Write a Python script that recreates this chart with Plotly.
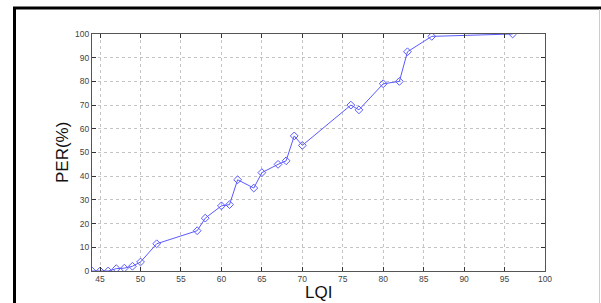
import plotly.graph_objects as go

lqi = [44, 45, 46, 47, 48, 49, 50, 52, 57, 58, 60, 61, 62, 64, 65, 67, 68, 69, 70, 76, 77, 80, 82, 83, 86, 96]
per = [0, 0, 0, 1, 1.2, 2, 3.8, 11.5, 17, 22.3, 27.5, 28, 38.5, 35, 41.5, 45, 46.5, 57, 53, 70, 68, 79, 80, 92.5, 99, 100]

x_ticks = [45, 50, 55, 60, 65, 70, 75, 80, 85, 90, 95, 100]
y_ticks = [0, 10, 20, 30, 40, 50, 60, 70, 80, 90, 100]

W, H = 601, 303
L, R, T, B = 92, 56, 34, 32
pw, ph = W - L - R, H - T - B

def px(x):
    return (x - L) / pw

def py(y):
    return (H - B - y) / ph

FONT = "Arial, Liberation Sans, sans-serif"

fig = go.Figure()
fig.add_trace(go.Scatter(
    x=lqi, y=per, mode="lines+markers",
    line=dict(color="#5a5aff", width=1),
    marker=dict(symbol="diamond-open", size=6, color="#5a5aff", line=dict(width=1)),
    showlegend=False,
))

axis_common = dict(
    showline=True, linecolor="#555", linewidth=1, mirror="ticks",
    ticks="inside", ticklen=4, tickcolor="#333",
    showgrid=True, gridcolor="#c4c4c4", griddash="dot", gridwidth=1,
    zeroline=False, automargin=False,
    tickfont=dict(family=FONT, size=8.5, color="#444"),
)

fig.update_layout(
    width=W, height=H,
    margin=dict(l=L, r=R, t=T, b=B, autoexpand=False),
    paper_bgcolor="white", plot_bgcolor="white",
    xaxis=dict(range=[44, 100], tickvals=x_ticks, **axis_common),
    yaxis=dict(range=[0, 100], tickvals=y_ticks, **axis_common),
    annotations=[
        dict(text="LQI", xref="paper", yref="paper", x=px(318), y=py(292),
             showarrow=False, xanchor="center", yanchor="middle",
             font=dict(family=FONT, size=17, color="#111")),
        dict(text="PER(%)", xref="paper", yref="paper", x=px(62), y=py(153),
             showarrow=False, xanchor="center", yanchor="middle", textangle=-90,
             font=dict(family=FONT, size=17, color="#111")),
    ],
    shapes=[
        dict(type="line", xref="paper", yref="paper", x0=px(14.5), x1=px(14.5), y0=py(7), y1=py(H + 2),
             line=dict(color="black", width=3)),
        dict(type="line", xref="paper", yref="paper", x0=px(13), x1=px(W + 2), y0=py(8), y1=py(8),
             line=dict(color="black", width=3)),
        dict(type="line", xref="paper", yref="paper", x0=px(599.5), x1=px(599.5), y0=py(9), y1=py(H + 2),
             line=dict(color="#ccc", width=1)),
    ],
)

fig.write_html("out.html", config={"displayModeBar": False},
               post_script="document.body.style.margin='0';document.body.style.overflow='hidden';")
